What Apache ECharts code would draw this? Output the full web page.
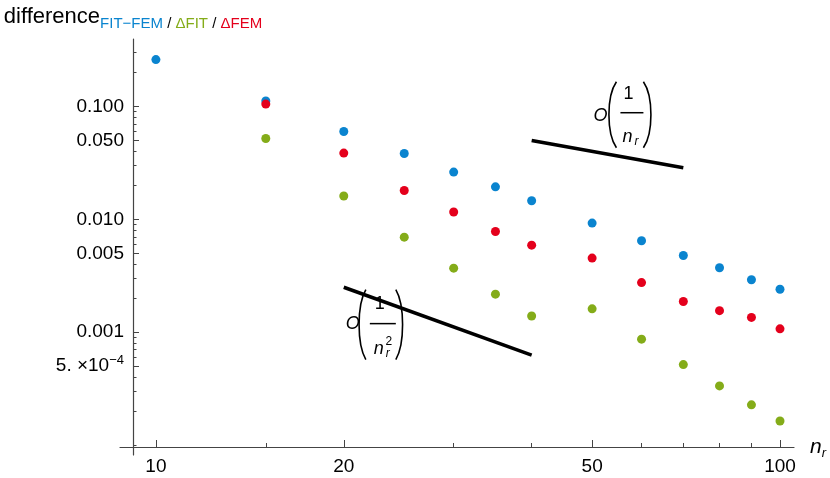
<!DOCTYPE html>
<html><head><meta charset="utf-8">
<script src="https://cdn.jsdelivr.net/npm/echarts@6/dist/echarts.min.js"></script>
<style>html,body{margin:0;padding:0;background:#fff}#c{width:830px;height:478px}</style>
</head><body><div id="c"></div><script>
// ---- data ----
const nrAll = [10, 15, 20, 25, 30, 35, 40, 50, 60, 70, 80, 90, 100];
const fitMinusFem = [0.26, 0.112, 0.060, 0.0383, 0.0262, 0.0194, 0.0146, 0.00925, 0.00645, 0.00478, 0.00372, 0.00291, 0.00240];
const nrDelta = [15, 20, 25, 30, 35, 40, 50, 60, 70, 80, 90, 100];
const deltaFit = [0.0520, 0.0161, 0.00695, 0.00369, 0.00217, 0.00139, 0.00161, 0.000867, 0.000516, 0.000334, 0.000227, 0.000163];
const deltaFem = [0.105, 0.0386, 0.0180, 0.0116, 0.0078, 0.0059, 0.00453, 0.00275, 0.00187, 0.00155, 0.00135, 0.00107];
const rate1X = [40, 70];
const rate1Y = [0.05, 0.0286];
const rate2X = [20, 40];
const rate2Y = [0.0025, 0.000625];
const xMajorTicks = [10, 20, 50, 100];
const xTickLabels = ['10', '20', '50', '100'];
const xMinorTicks = [15, 30, 40, 60, 70, 80, 90];
const yMajorTicks = [0.1, 0.05, 0.01, 0.005, 0.001, 0.0005];
const yTickLabels = ['0.100', '0.050', '0.010', '0.005', '0.001', '{a|5. ×10}{s|−4}'];
const yMinorTicks = [0.3, 0.2, 0.09, 0.08, 0.07, 0.06, 0.04, 0.03, 0.02,
  0.009, 0.008, 0.007, 0.006, 0.004, 0.003, 0.002,
  0.0009, 0.0008, 0.0007, 0.0006, 0.0004, 0.0003, 0.0002, 0.0001];
const xRange = [9.19, 105.3];
const yRange = [9.6e-5, 0.396];
const anno1Anchor = [57.8, 0.088];
const anno2Anchor = [23.1, 0.00119];

const BLUE = '#0a84cf', GREEN = '#84ac19', RED = '#e4001c';
const AXC = '#444';
const FONT = '"Liberation Sans", Arial, Helvetica, sans-serif';
const TICKFS = 19;

function pairs(xs, ys) { return xs.map((x, i) => [x, ys[i]]); }
function lookup(v, ticks, labels) {
  for (let i = 0; i < ticks.length; i++) {
    if (Math.abs(Math.log10(v) - Math.log10(ticks[i])) < 1e-6) return labels[i];
  }
  return '';
}
function hiddenLine() { return { show: true, lineStyle: { color: AXC, opacity: 0 } }; }
function tickStyle() { return { color: AXC, width: 1, opacity: 1 }; }

const chart = echarts.init(document.getElementById('c'), null, { renderer: 'canvas' });

const option = {
  animation: false,
  backgroundColor: '#fff',
  textStyle: { fontFamily: FONT },
  grid: [
    { left: 133, right: 36, top: 39, bottom: 31 },
    { left: 120, right: 36, top: 39, bottom: 23 }
  ],
  xAxis: [
    {
      type: 'log', gridIndex: 0, min: xRange[0], max: xRange[1],
      axisLine: hiddenLine(),
      splitLine: { show: false },
      axisTick: { show: true, inside: true, length: 7, customValues: xMajorTicks, lineStyle: tickStyle() },
      axisLabel: { show: true, customValues: xMajorTicks, margin: 10, fontSize: TICKFS, color: '#000', fontFamily: FONT,
        formatter: v => lookup(v, xMajorTicks, xTickLabels) },
      name: '{n|n}{r|r}', nameLocation: 'end', nameGap: 16,
      nameTextStyle: { rich: {
        n: { fontStyle: 'italic', fontSize: 21, color: '#000', fontFamily: FONT },
        r: { fontStyle: 'italic', fontSize: 13, color: '#000', fontFamily: FONT, padding: [12, 0, 0, 0] }
      } }
    },
    {
      type: 'log', gridIndex: 0, position: 'bottom', min: xRange[0], max: xRange[1],
      axisLine: hiddenLine(), splitLine: { show: false }, axisLabel: { show: false },
      axisTick: { show: true, inside: true, length: 4, customValues: xMinorTicks, lineStyle: tickStyle() }
    },
    {
      type: 'value', gridIndex: 1, min: -1, max: 51,
      axisLine: { show: true, onZero: true, lineStyle: { color: AXC, width: 1.2 } },
      axisTick: { show: false }, axisLabel: { show: false }, splitLine: { show: false }
    }
  ],
  yAxis: [
    {
      type: 'log', gridIndex: 0, position: 'left', min: yRange[0], max: yRange[1],
      axisLine: hiddenLine(),
      splitLine: { show: false },
      axisTick: { show: true, inside: true, length: 6, customValues: yMajorTicks, lineStyle: tickStyle() },
      axisLabel: { show: true, customValues: yMajorTicks, margin: 9, fontSize: TICKFS, color: '#000', fontFamily: FONT,
        formatter: v => lookup(v, yMajorTicks, yTickLabels),
        rich: {
          a: { fontSize: TICKFS, color: '#000', fontFamily: FONT },
          s: { fontSize: 13, color: '#000', fontFamily: FONT, padding: [0, 0, 12, 0] }
        } },
      name: '{d|difference}{b|FIT−FEM}{k| / }{g|ΔFIT}{k| / }{r|ΔFEM}',
      nameLocation: 'end', nameGap: 8,
      nameTextStyle: { align: 'center', rich: {
        d: { fontSize: 22, color: '#000', fontFamily: FONT },
        b: { fontSize: 15, color: BLUE, fontFamily: FONT, padding: [14, 0, 0, 0] },
        g: { fontSize: 15, color: GREEN, fontFamily: FONT, padding: [14, 0, 0, 0] },
        r: { fontSize: 15, color: RED, fontFamily: FONT, padding: [14, 0, 0, 0] },
        k: { fontSize: 15, color: '#000', fontFamily: FONT, padding: [14, 0, 0, 0] }
      } }
    },
    {
      type: 'log', gridIndex: 0, position: 'left', min: yRange[0], max: yRange[1],
      axisLine: hiddenLine(), splitLine: { show: false }, axisLabel: { show: false },
      axisTick: { show: true, inside: true, length: 3.5, customValues: yMinorTicks, lineStyle: tickStyle() }
    },
    {
      type: 'value', gridIndex: 1, min: -1, max: 51,
      axisLine: { show: true, onZero: true, lineStyle: { color: AXC, width: 1.2 } },
      axisTick: { show: false }, axisLabel: { show: false }, splitLine: { show: false }
    }
  ],
  series: [
    { name: 'FIT−FEM', type: 'scatter', xAxisIndex: 0, yAxisIndex: 0, symbolSize: 9,
      itemStyle: { color: BLUE, opacity: 1 }, data: pairs(nrAll, fitMinusFem) },
    { name: 'ΔFIT', type: 'scatter', xAxisIndex: 0, yAxisIndex: 0, symbolSize: 9,
      itemStyle: { color: GREEN, opacity: 1 }, data: pairs(nrDelta, deltaFit) },
    { name: 'ΔFEM', type: 'scatter', xAxisIndex: 0, yAxisIndex: 0, symbolSize: 9,
      itemStyle: { color: RED, opacity: 1 }, data: pairs(nrDelta, deltaFem) },
    { name: 'O(1/n)', type: 'line', xAxisIndex: 0, yAxisIndex: 0, symbol: 'none',
      lineStyle: { color: '#000', width: 3.5, cap: 'butt' }, data: pairs(rate1X, rate1Y) },
    { name: 'O(1/n^2)', type: 'line', xAxisIndex: 0, yAxisIndex: 0, symbol: 'none',
      lineStyle: { color: '#000', width: 3.5, cap: 'butt' }, data: pairs(rate2X, rate2Y) }
  ]
};
chart.setOption(option);

function paren(x0, xb, y0, y1) {
  return { type: 'bezierCurve',
    shape: { x1: x0, y1: y0, x2: x0, y2: y1, cpx1: xb, cpy1: y0 + (y1 - y0) * 0.22, cpx2: xb, cpy2: y0 + (y1 - y0) * 0.78 },
    style: { stroke: '#000', lineWidth: 1.6, fill: null } };
}
function txt(t, x, y, font) {
  return { type: 'text', style: { text: t, x: x, y: y, font: font, fill: '#000', align: 'center', verticalAlign: 'middle' } };
}
const F18 = '18px ' + FONT, I18 = 'italic 18px ' + FONT, I12 = 'italic 12px ' + FONT;

const p1 = chart.convertToPixel({ xAxisIndex: 0, yAxisIndex: 0 }, anno1Anchor);
const p2 = chart.convertToPixel({ xAxisIndex: 0, yAxisIndex: 0 }, anno2Anchor);

chart.setOption({
  graphic: [
    { type: 'group', x: p1[0], y: p1[1], children: [
      txt('O', -31, 3, I18),
      paren(-15, -25, -31, 35),
      paren(12, 22, -31, 35),
      { type: 'line', shape: { x1: -11, y1: 0, x2: 12, y2: 0 }, style: { stroke: '#000', lineWidth: 1.5 } },
      txt('1', -3, -19, F18),
      txt('n', -4, 24, I18),
      txt('r', 5, 29, I12)
    ] },
    { type: 'group', x: p2[0], y: p2[1], children: [
      txt('O', -30, 0, I18),
      paren(-17, -26, -34, 36),
      paren(13, 22, -34, 36),
      { type: 'line', shape: { x1: -13, y1: 0, x2: 13, y2: 0 }, style: { stroke: '#000', lineWidth: 1.5 } },
      txt('1', -3, -20, F18),
      txt('n', -4, 25, I18),
      txt('r', 5, 30, I12),
      txt('2', 6, 18, '12px ' + FONT)
    ] }
  ]
});
</script></body></html>
